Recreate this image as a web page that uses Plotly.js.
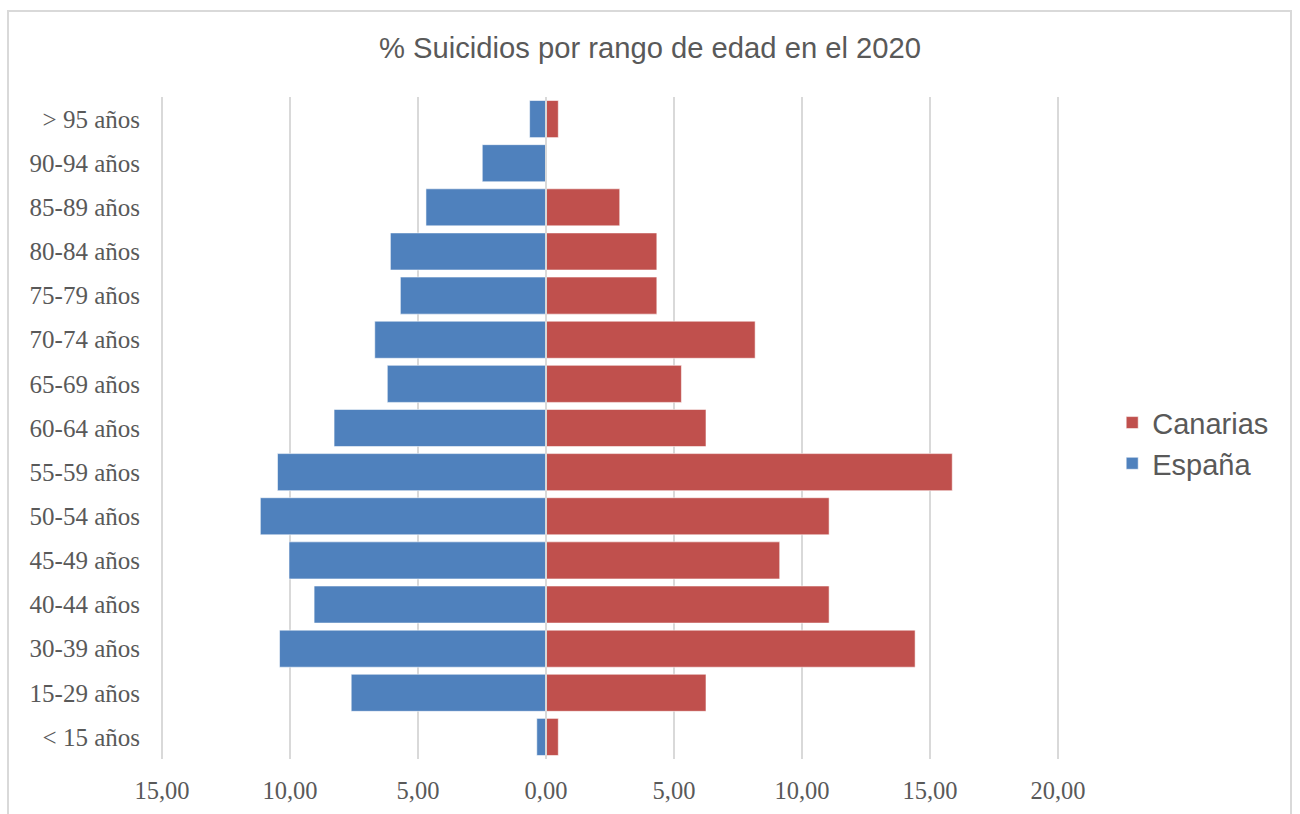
<!DOCTYPE html>
<html>
<head>
<meta charset="utf-8">
<script src="https://cdn.plot.ly/plotly-3.0.1.min.js"></script>
<style>
  html, body { margin: 0; padding: 0; background: #ffffff; }
  #wrap { position: relative; width: 1300px; height: 814px; overflow: hidden; }
  #chart { position: absolute; left: 0; top: 0; width: 1300px; height: 814px; }
  #frame {
    position: absolute; left: 7px; top: 10px; width: 1285px; height: 830px;
    border: 2px solid #d9d9d9; box-sizing: border-box; pointer-events: none;
  }
</style>
</head>
<body>
<div id="wrap">
  <div id="chart"></div>
  <div id="frame"></div>
</div>
<script>
// Age groups, bottom to top
const categories = [
  '< 15 años', '15-29 años', '30-39 años', '40-44 años', '45-49 años',
  '50-54 años', '55-59 años', '60-64 años', '65-69 años', '70-74 años',
  '75-79 años', '80-84 años', '85-89 años', '90-94 años', '> 95 años'
];

// Share of suicides (%) per age group, 2020
const espana = [0.36, 7.61, 10.41, 9.06, 10.04, 11.16, 10.49, 8.28, 6.20, 6.69, 5.69, 6.08, 4.69, 2.49, 0.64];
const canarias = [0.48, 6.25, 14.42, 11.06, 9.13, 11.06, 15.87, 6.25, 5.29, 8.17, 4.33, 4.33, 2.88, 0.00, 0.48];

// Symmetric axis: both sides labelled with positive values
const tickValues = [-15, -10, -5, 0, 5, 10, 15, 20];
const tickLabels = ['15,00', '10,00', '5,00', '0,00', '5,00', '10,00', '15,00', '20,00'];

const textColor = '#595959';
const sansFont = 'Liberation Sans, Arial, sans-serif';
const serifFont = 'Liberation Serif, Times New Roman, serif';

const traces = [
  {
    type: 'bar',
    orientation: 'h',
    name: 'España',
    y: categories,
    x: espana.map(v => -v),
    marker: { color: '#4f81bd', line: { color: 'rgba(255,255,255,0.55)', width: 1 } },
    hoverinfo: 'skip'
  },
  {
    type: 'bar',
    orientation: 'h',
    name: 'Canarias',
    y: categories,
    x: canarias,
    marker: { color: '#c0504d', line: { color: 'rgba(255,255,255,0.55)', width: 1 } },
    hoverinfo: 'skip'
  }
];

const layout = {
  width: 1300,
  height: 814,
  paper_bgcolor: '#ffffff',
  plot_bgcolor: '#ffffff',
  margin: { l: 160, r: 240, t: 97, b: 55 },
  barmode: 'relative',
  bargap: 0.16,
  title: {
    text: '% Suicidios por rango de edad en el 2020',
    font: { family: sansFont, size: 29.2, color: textColor },
    x: 0.5, xref: 'container', xanchor: 'center',
    y: 1 - 48 / 814, yref: 'container', yanchor: 'middle'
  },
  xaxis: {
    range: [-15.08, 20.08],
    tickmode: 'array',
    tickvals: tickValues,
    ticktext: tickLabels,
    showgrid: true,
    gridcolor: '#d9d9d9',
    gridwidth: 2,
    zeroline: false,
    showline: false,
    ticks: '',
    ticklabelstandoff: 14,
    tickfont: { family: serifFont, size: 24.5, color: textColor },
    fixedrange: true
  },
  yaxis: {
    type: 'category',
    categoryorder: 'array',
    categoryarray: categories,
    showgrid: false,
    zeroline: false,
    showline: false,
    ticks: '',
    ticklabelstandoff: 19,
    tickfont: { family: serifFont, size: 25, color: textColor },
    fixedrange: true
  },
  shapes: [
    {
      type: 'line', layer: 'above',
      xref: 'x', yref: 'paper',
      x0: 0, x1: 0, y0: 0, y1: 1,
      line: { color: '#d9d9d9', width: 2 }
    }
  ],
  legend: {
    x: 1.058, xanchor: 'left',
    y: 0.477, yanchor: 'middle',
    traceorder: 'reversed',
    font: { family: sansFont, size: 29, color: textColor },
    bgcolor: 'rgba(0,0,0,0)',
    itemclick: false,
    itemdoubleclick: false,
    tracegroupgap: 0
  },
  showlegend: true
};

Plotly.newPlot('chart', traces, layout, { staticPlot: true, displayModeBar: false });
</script>
</body>
</html>
